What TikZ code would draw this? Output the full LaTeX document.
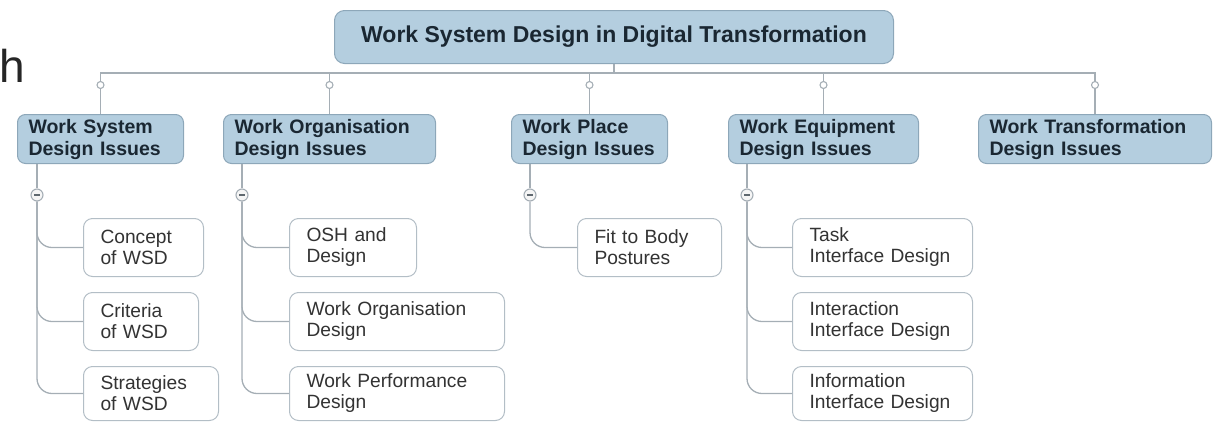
\documentclass[tikz,border=0pt]{standalone}
\usepackage{fontspec}
\setmainfont{Liberation Sans}
\definecolor{boxfill}{HTML}{B4CEDF}
\definecolor{boxborder}{HTML}{8DA7B9}
\definecolor{darktext}{HTML}{1A2732}
\definecolor{leafborder}{HTML}{B3BEC6}
\definecolor{leaftext}{HTML}{333333}
\definecolor{linecol}{HTML}{A5AEB5}
\begin{document}
\begin{tikzpicture}[x=1pt,y=-1pt,
  conn/.style={draw=linecol, line width=1.3pt},
  rootbox/.style={draw=boxborder, fill=boxfill, rounded corners=10pt, line width=1pt,
    minimum width=559pt, minimum height=53pt, inner sep=0pt, anchor=north west,
    text=darktext, font=\fontsize{23}{27}\selectfont\bfseries},
  catbox/.style={draw=boxborder, fill=boxfill, rounded corners=8pt, line width=1pt,
    minimum height=49pt, inner xsep=11pt, inner ysep=0pt, anchor=north west, align=left,
    text=darktext, font=\fontsize{19.5}{22}\selectfont\bfseries},
  leafbox/.style={draw=leafborder, fill=white, rounded corners=9pt, line width=1pt,
    minimum height=58pt, inner xsep=17pt, inner ysep=0pt, anchor=north west, align=left,
    text=leaftext, font=\fontsize{19.2}{21}\selectfont},
  knob/.style={circle, draw=linecol, fill=white, line width=1.1pt, minimum size=7pt, inner sep=0pt},
  fold/.style={circle, draw=linecol, fill=gray!8, line width=1.1pt, minimum size=12pt, inner sep=0pt,
    path picture={\draw[line width=1.2pt, darktext!70]
      ([xshift=-3pt]path picture bounding box.center) -- ([xshift=3pt]path picture bounding box.center);}},
  branch/.style={conn, rounded corners=15pt}
]
\useasboundingbox (0,0) rectangle (1216,421);

% stray glyph at the left edge
\node[anchor=base west, inner sep=0pt, font=\fontsize{46}{50}\selectfont, text=black!85] (h) at (-1,82) {h};

% root
\node[rootbox] (root) at (334,10) {Work System Design in Digital Transformation};

% category boxes
\node[catbox, text width=144pt] (c1) at (17,114) {Work System\\Design Issues};
\node[catbox, text width=190pt] (c2) at (223,114) {Work Organisation\\Design Issues};
\node[catbox, text width=134pt] (c3) at (511,114) {Work Place\\Design Issues};
\node[catbox, text width=168pt] (c4) at (728,114) {Work Equipment\\Design Issues};
\node[catbox, text width=211pt] (c5) at (978,114) {Work Transformation\\Design Issues};

% small knobs on the drops
\foreach \i in {1,...,5}{
  \node[knob] (o\i) at (c\i.north |- 0,85) {};
}

% bus and drops
\foreach \i in {1,...,5}{
  \draw[conn] (root.south) -- ++(0,9) -| (o\i);
  \draw[conn] (o\i) -- (c\i);
}

% fold markers
\node[fold] (m1) at (37,195) {};
\node[fold] (m2) at (242,195) {};
\node[fold] (m3) at (530,195) {};
\node[fold] (m4) at (747,195) {};
\foreach \i in {1,...,4}{
  \draw[conn] (c\i.south -| m\i) -- (m\i);
}

% leaves
\node[leafbox, text width=86pt]  (l11) at (83,218) {Concept\\of WSD};
\node[leafbox, text width=81pt]  (l12) at (83,292) {Criteria\\of WSD};
\node[leafbox, text width=101pt, minimum height=54pt] (l13) at (83,366) {Strategies\\of WSD};

\node[leafbox, text width=93pt]  (l21) at (289,218) {OSH and\\Design};
\node[leafbox, text width=181pt] (l22) at (289,292) {Work Organisation\\Design};
\node[leafbox, text width=181pt, minimum height=54pt] (l23) at (289,366) {Work Performance\\Design};

\node[leafbox, text width=110pt] (l31) at (577,218) {Fit to Body\\Postures};

\node[leafbox, text width=146pt] (l41) at (792,218) {Task\\Interface Design};
\node[leafbox, text width=146pt] (l42) at (792,292) {Interaction\\Interface Design};
\node[leafbox, text width=146pt, minimum height=54pt] (l43) at (792,366) {Information\\Interface Design};

% leaf connectors
\foreach \l in {l11,l12,l13}{ \draw[branch] (m1.south) |- (\l.west); }
\foreach \l in {l21,l22,l23}{ \draw[branch] (m2.south) |- (\l.west); }
\draw[branch] (m3.south) |- (l31.west);
\foreach \l in {l41,l42,l43}{ \draw[branch] (m4.south) |- (\l.west); }
\end{tikzpicture}
\end{document}
